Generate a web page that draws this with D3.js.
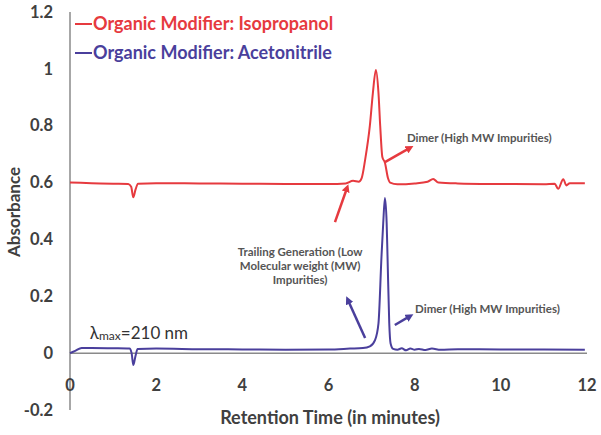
<!DOCTYPE html>
<html>
<head>
<meta charset="utf-8">
<script src="https://cdn.jsdelivr.net/npm/d3@7"></script>
<style>
  body { margin: 0; background: #fff; }
  svg { display: block; font-family: Lato, "Open Sans", sans-serif; }
</style>
</head>
<body>
<div class="chart"></div>
<script>
// chromatogram traces: [time (min), absorbance]
var isopropanol = [
    [0, 0.600], [0.5, 0.598], [1.0, 0.596], [1.35, 0.595], [1.42, 0.585],
    [1.47, 0.548], [1.52, 0.575], [1.58, 0.596], [2.0, 0.598], [3.0, 0.597],
    [4.0, 0.596], [5.0, 0.595], [6.0, 0.595], [6.4, 0.597], [6.57, 0.606],
    [6.7, 0.603], [6.77, 0.616], [6.85, 0.68], [6.96, 0.80], [7.03, 0.915],
    [7.10, 0.996], [7.16, 0.915], [7.20, 0.80], [7.25, 0.69], [7.31, 0.67],
    [7.38, 0.616], [7.43, 0.600], [7.6, 0.594], [8.0, 0.597], [8.3, 0.603],
    [8.43, 0.613], [8.55, 0.600], [9.0, 0.597], [10.0, 0.595], [11.0, 0.594],
    [11.25, 0.596], [11.33, 0.578], [11.45, 0.612], [11.52, 0.590], [11.6, 0.598],
    [11.95, 0.598]
];
var acetonitrile = [
    [0, 0.0], [0.12, 0.008], [0.27, 0.018], [0.5, 0.018], [1.0, 0.017],
    [1.38, 0.016], [1.43, 0.0], [1.47, -0.042], [1.52, -0.01], [1.57, 0.015],
    [2.0, 0.016], [3.0, 0.014], [4.0, 0.013], [5.0, 0.012], [6.0, 0.013],
    [6.5, 0.016], [6.8, 0.018], [6.96, 0.024], [7.08, 0.046], [7.16, 0.105],
    [7.23, 0.34], [7.27, 0.457], [7.31, 0.546], [7.35, 0.457], [7.37, 0.34],
    [7.41, 0.105], [7.44, 0.035], [7.50, 0.015], [7.6, 0.012], [7.7, 0.017],
    [7.8, 0.010], [7.9, 0.016], [8.0, 0.012], [8.1, 0.015], [8.25, 0.011],
    [8.4, 0.016], [8.6, 0.012], [9.0, 0.014], [10.0, 0.013], [11.0, 0.013],
    [11.95, 0.012]
];
var seriesNames = ['Organic Modifier: Isopropanol', 'Organic Modifier: Acetonitrile'];
var seriesColors = ['#e63a3f', '#4a3f9c'];
var xTicks = [0, 2, 4, 6, 8, 10, 12];
var yTicks = [-0.2, 0, 0.2, 0.4, 0.6, 0.8, 1, 1.2];

// annotation arrows: [fromTime, fromAbs, toTime, toAbs, seriesIndex]
var arrows = [
    [6.15, 0.461, 6.43, 0.581, 0],
    [7.31, 0.672, 7.89, 0.722, 0],
    [6.85, 0.053, 6.45, 0.187, 1],
    [7.54, 0.099, 7.89, 0.130, 1]
];
// annotation notes: [time, abs, text, anchor]
var notes = [
    [7.82, 0.757, 'Dimer (High MW Impurities)', 'start'],
    [8.01, 0.155, 'Dimer (High MW Impurities)', 'start'],
    [5.34, 0.356, 'Trailing Generation (Low', 'middle'],
    [5.34, 0.305, 'Molecular weight (MW)', 'middle'],
    [5.34, 0.257, 'Impurities)', 'middle']
];

var margin = { top: 12, right: 14, bottom: 25, left: 70 };

var svg = d3.select('.chart')
    .append('svg')
    .attr('width', 601)
    .attr('height', 435);

var defs = svg.append('defs');
seriesColors.forEach(function (c, i) {
    defs.append('marker')
        .attr('id', 'head' + i)
        .attr('viewBox', '0 0 10 10')
        .attr('refX', 5).attr('refY', 5)
        .attr('markerWidth', 3.2).attr('markerHeight', 3.2)
        .attr('orient', 'auto')
        .append('path')
        .attr('d', 'M0,0 L10,5 L0,10 z')
        .style('fill', c);
});

var g = svg.append('g')
    .attr('transform', `translate(${margin.left}, ${margin.top})`);

var xScale = d3.scaleLinear().domain([0, 12]).range([0, 517]);
var yScale = d3.scaleLinear().domain([-0.2, 1.2]).range([398, 0]);

// axes: plain gray lines, no tick marks
g.append('line')
    .attr('x1', 0).attr('x2', 0)
    .attr('y1', yScale(1.2)).attr('y2', yScale(-0.2))
    .style('stroke', '#8a8a8a').style('stroke-width', 1.5);
g.append('line')
    .attr('x1', xScale(0)).attr('x2', xScale(12))
    .attr('y1', yScale(0)).attr('y2', yScale(0))
    .style('stroke', '#8a8a8a').style('stroke-width', 1.5);

g.selectAll('.ytick')
    .data(yTicks)
    .enter()
    .append('text')
    .attr('class', 'ytick')
    .attr('x', -17)
    .attr('y', d => yScale(d))
    .attr('dy', '0.35em')
    .attr('text-anchor', 'end')
    .style('font-size', '16.5px')
    .style('font-weight', 'bold')
    .style('fill', '#404040')
    .text(d => +d.toFixed(1));

g.selectAll('.xtick')
    .data(xTicks)
    .enter()
    .append('text')
    .attr('class', 'xtick')
    .attr('x', d => xScale(d))
    .attr('y', yScale(0) + 32)
    .attr('dy', '0.35em')
    .attr('text-anchor', 'middle')
    .style('font-size', '16.5px')
    .style('font-weight', 'bold')
    .style('fill', '#404040')
    .text(d => d);

g.append('text')
    .attr('transform', `translate(${-56}, ${200}) rotate(-90)`)
    .attr('text-anchor', 'middle')
    .attr('dy', '0.35em')
    .style('font-size', '17px')
    .style('font-weight', 'bold')
    .style('fill', '#404040')
    .text('Absorbance');

g.append('text')
    .attr('x', 260)
    .attr('y', 406)
    .attr('text-anchor', 'middle')
    .attr('dy', '0.35em')
    .style('font-size', '18px')
    .style('font-weight', 'bold')
    .style('fill', '#404040')
    .text('Retention Time (in minutes)');

var line = d3.line()
    .x(d => xScale(d[0]))
    .y(d => yScale(d[1]))
    .curve(d3.curveMonotoneX);

[isopropanol, acetonitrile].forEach(function (data, i) {
    g.append('path')
        .attr('class', 'line')
        .attr('d', line(data))
        .style('stroke', seriesColors[i])
        .style('stroke-width', 2)
        .style('fill', 'none');
});

// legend
var legend = g.selectAll('.legend')
    .data(seriesNames)
    .enter()
    .append('g')
    .attr('class', 'legend')
    .attr('transform', (d, i) => `translate(5, ${12 + i * 29})`);
legend.append('line')
    .attr('x1', 0).attr('x2', 17)
    .style('stroke', (d, i) => seriesColors[i])
    .style('stroke-width', 2);
legend.append('text')
    .attr('x', 18)
    .attr('dy', '0.35em')
    .style('font-size', '18px')
    .style('font-weight', 'bold')
    .style('fill', (d, i) => seriesColors[i])
    .text(d => d);

// arrows
g.selectAll('.arrow')
    .data(arrows)
    .enter()
    .append('line')
    .attr('class', 'arrow')
    .attr('x1', d => xScale(d[0])).attr('y1', d => yScale(d[1]))
    .attr('x2', d => xScale(d[2])).attr('y2', d => yScale(d[3]))
    .style('stroke', d => seriesColors[d[4]])
    .style('stroke-width', 2.5)
    .attr('marker-end', d => `url(#head${d[4]})`);

g.selectAll('.note')
    .data(notes)
    .enter()
    .append('text')
    .attr('class', 'note')
    .attr('x', d => xScale(d[0]))
    .attr('y', d => yScale(d[1]))
    .attr('dy', '0.35em')
    .attr('text-anchor', d => d[3])
    .style('font-size', '11.5px')
    .style('font-weight', 'bold')
    .style('fill', '#555')
    .text(d => d[2]);

// lambda max label
var lam = g.append('text')
    .attr('x', xScale(0.46))
    .attr('y', yScale(0.07))
    .attr('dy', '0.35em')
    .style('font-size', '17px')
    .style('fill', '#333');
lam.append('tspan').text('λ');
lam.append('tspan').style('font-size', '12px').attr('dy', '0.1em').text('max');
lam.append('tspan').attr('dy', '-0.1em').text('=210 nm');
</script>
</body>
</html>
